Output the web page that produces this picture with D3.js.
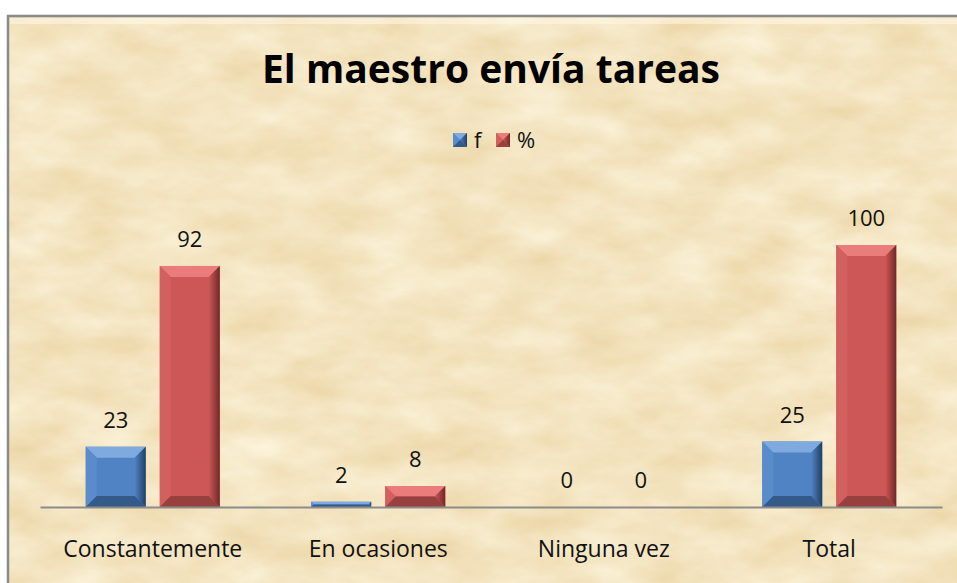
<!DOCTYPE html>
<html>
<head>
<meta charset="utf-8">
<script src="https://cdn.jsdelivr.net/npm/d3@7"></script>
<style>
  body { margin: 0; background: #fff; }
  svg { display: block; font-family: "Open Sans", "Noto Sans", sans-serif; }
</style>
</head>
<body>
<svg id="chart" width="957" height="583"></svg>
<script>
// Data ------------------------------------------
var categories = ["Constantemente", "En ocasiones", "Ninguna vez", "Total"];
var series = ["f", "%"];
var fValues = [23, 2, 0, 25];
var pctValues = [92, 8, 0, 100];
var title = "El maestro envía tareas";

var svg = d3.select("#chart");
var width = 957, height = 583;

// colours: main, top bevel, left bevel, right bevel, bottom bevel
var palette = {
  "f": { main: "#5083c3", top: "#7eaae0", left: "#5a8ccb", right: "#213f63", bottom: "#345a8a" },
  "%": { main: "#cd5756", top: "#ea7d7b", left: "#d2605f", right: "#6f2928", bottom: "#98403e" }
};

// Background / frame ------------------------------
var defs = svg.append("defs");
var paper = defs.append("filter").attr("id", "paper")
    .attr("x", 0).attr("y", 0).attr("width", 1).attr("height", 1)
    .attr("color-interpolation-filters", "sRGB");
paper.append("feTurbulence")
    .attr("type", "fractalNoise")
    .attr("baseFrequency", "0.014 0.03")
    .attr("numOctaves", 5)
    .attr("seed", 7)
    .attr("result", "noise");
paper.append("feColorMatrix")
    .attr("in", "noise")
    .attr("type", "matrix")
    .attr("values", "0.08 0 0 0 0.915  0.14 0 0 0 0.825  0.25 0 0 0 0.63  0 0 0 0 1");

var rightShade = {};
series.forEach(function(s) {
  var id = "rg" + (s == "f" ? "f" : "p");
  var g = defs.append("linearGradient").attr("id", id)
      .attr("x1", 0).attr("x2", 1).attr("y1", 0).attr("y2", 0);
  g.append("stop").attr("offset", 0).attr("stop-color", palette[s].main);
  g.append("stop").attr("offset", 1).attr("stop-color", palette[s].right);
  rightShade[s] = "url(#" + id + ")";
});

svg.append("rect")
    .attr("x", 8).attr("y", 16)
    .attr("width", width).attr("height", height)
    .attr("filter", "url(#paper)");
svg.append("rect")
    .attr("x", 8).attr("y", 16)
    .attr("width", width).attr("height", height)
    .attr("fill", "none")
    .attr("stroke", "#8a8a8a")
    .attr("stroke-width", 2.5);
// soft highlight along the top edge
svg.append("rect")
    .attr("x", 10).attr("y", 18)
    .attr("width", width).attr("height", 6)
    .attr("fill", "#fff8e6").attr("opacity", 0.55);

// Scales ----------------------------------------
var x0 = d3.scaleBand()
    .domain(categories)
    .range([40, 942]);

var x1 = d3.scaleBand()
    .domain(series)
    .range([-67, 67])
    .paddingInner(0.19);

var y = d3.scaleLinear()
    .domain([0, 100])
    .range([507, 245]);

var rows = categories.map(function(c, i) {
  return { cat: c, values: [ { s: "f", v: fValues[i] }, { s: "%", v: pctValues[i] } ] };
});

// Bevelled box ----------------------------------
function bevelBox(g, xa, ya, xb, yb, s, bmax) {
  var b = Math.min(bmax, (yb - ya) / 2, (xb - xa) / 2);
  var c = palette[s];
  g.append("rect").attr("x", xa).attr("y", ya)
      .attr("width", xb - xa).attr("height", yb - ya).attr("fill", c.main);
  var polys = [
    { p: [[xa, ya], [xb, ya], [xb - b, ya + b], [xa + b, ya + b]], f: c.top },
    { p: [[xa, ya], [xa + b, ya + b], [xa + b, yb - b], [xa, yb]], f: c.left },
    { p: [[xb, ya], [xb, yb], [xb - b, yb - b], [xb - b, ya + b]], f: rightShade[s] },
    { p: [[xa, yb], [xa + b, yb - b], [xb - b, yb - b], [xb, yb]], f: c.bottom }
  ];
  g.selectAll(null).data(polys).enter().append("polygon")
      .attr("points", function(d) { return d.p.map(function(q) { return q.join(","); }).join(" "); })
      .attr("fill", function(d) { return d.f; });
}

// Bars ------------------------------------------
var groups = svg.selectAll("g.cat")
    .data(rows)
    .enter()
    .append("g")
    .attr("class", "cat")
    .attr("transform", function(d) { return "translate(" + (x0(d.cat) + x0.bandwidth() / 2) + ",0)"; });

groups.each(function(d) {
  var g = d3.select(this);
  d.values.forEach(function(v) {
    if (v.v > 0) {
      bevelBox(g.append("g"), x1(v.s), y(v.v), x1(v.s) + x1.bandwidth(), y(0), v.s, 11);
    }
    g.append("text")
        .attr("x", x1(v.s) + x1.bandwidth() / 2)
        .attr("y", y(v.v) - 19)
        .attr("text-anchor", "middle")
        .attr("font-size", 22)
        .attr("fill", "#111")
        .text(v.v);
  });
});

// Axis baseline + labels --------------------------
var xAxis = d3.axisBottom(x0).tickSize(0).tickPadding(34);
var ax = svg.append("g")
    .attr("transform", "translate(0," + y(0) + ")")
    .call(xAxis);
ax.select(".domain").attr("stroke", "#8c8c8c").attr("stroke-width", 2);
ax.selectAll("text")
    .attr("font-size", 23)
    .attr("font-family", "'Open Sans', 'Noto Sans', sans-serif")
    .attr("fill", "#111");

// Title -----------------------------------------
svg.append("text")
    .attr("x", 491)
    .attr("y", 83)
    .attr("text-anchor", "middle")
    .attr("font-size", 40)
    .attr("font-weight", "bold")
    .attr("textLength", 458)
    .attr("lengthAdjust", "spacingAndGlyphs")
    .attr("fill", "#000")
    .text(title);

// Legend ----------------------------------------
var legendX = [453, 496];
var legend = svg.selectAll("g.legend")
    .data(series)
    .enter()
    .append("g")
    .attr("class", "legend");
legend.each(function(s, i) {
  var g = d3.select(this);
  bevelBox(g.append("g"), legendX[i], 133, legendX[i] + 14, 147, s, 7);
  g.append("text")
      .attr("x", legendX[i] + 21)
      .attr("y", 148)
      .attr("font-size", 22)
      .attr("fill", "#111")
      .text(s);
});
</script>
</body>
</html>
